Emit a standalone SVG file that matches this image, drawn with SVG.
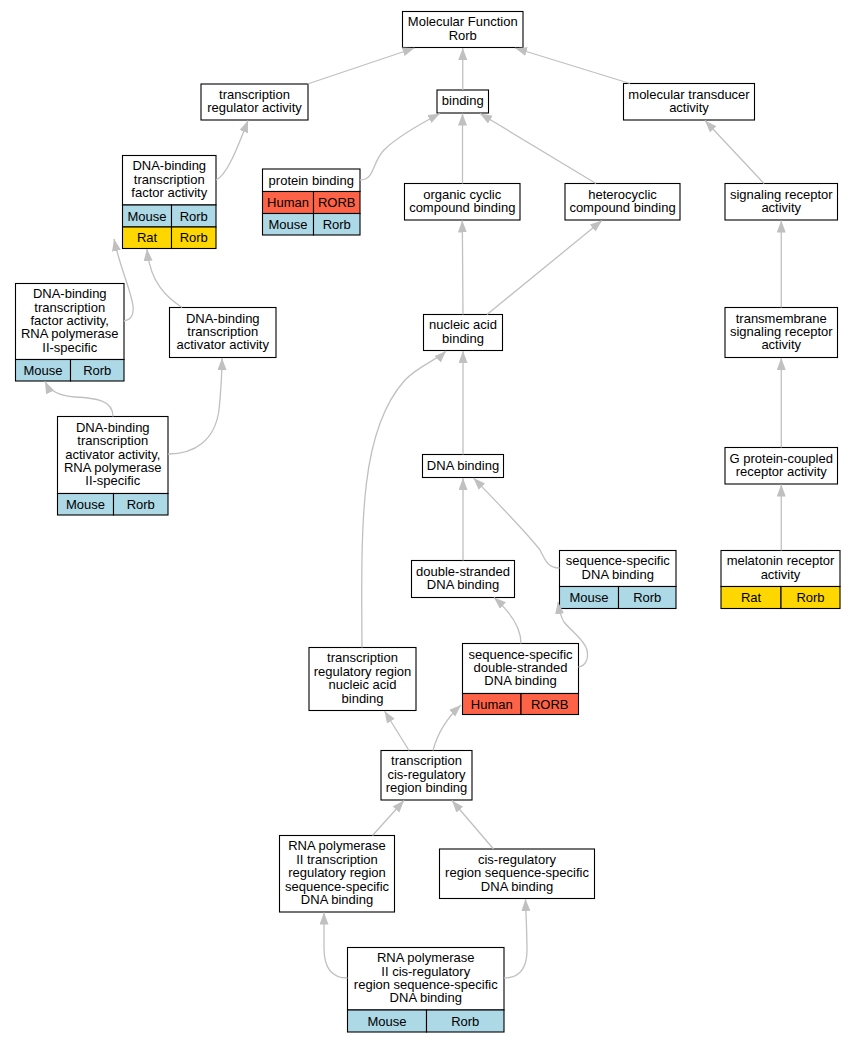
<svg xmlns="http://www.w3.org/2000/svg" width="856" height="1043" viewBox="0 0 856 1043">
<style>
.bg{fill:#fff}
.box{fill:#fff;stroke:#000;stroke-width:1.1}
.blue{fill:#add8e6;stroke:#000;stroke-width:1.1}
.red{fill:#ff6347;stroke:#000;stroke-width:1.1}
.gold{fill:#ffd700;stroke:#000;stroke-width:1.1}
text{font-family:"Liberation Sans",Arial,sans-serif;font-size:13px;text-anchor:middle;fill:#000}
.e{fill:none;stroke:#c0c0c0;stroke-width:1.3;marker-end:url(#ah)}
</style>
<defs>
<marker id="ah" markerUnits="userSpaceOnUse" markerWidth="13" markerHeight="10" refX="12" refY="4.5" orient="auto">
<path d="M0,0 L12,4.5 L0,9 z" fill="#c0c0c0"/>
</marker>
</defs>
<rect class="bg" x="0" y="0" width="856" height="1043"/>

<g id="n1"><rect class="box" x="402.5" y="11.5" width="120.5" height="36"/><text x="462.75" y="26.3">Molecular Function</text><text x="462.75" y="39.7">Rorb</text></g>
<g id="n2"><rect class="box" x="201" y="84" width="107" height="36"/><text x="254.5" y="98.8">transcription</text><text x="254.5" y="112.2">regulator activity</text></g>
<g id="n3"><rect class="box" x="437" y="90" width="51.5" height="23"/><text x="462.75" y="105">binding</text></g>
<g id="n4"><rect class="box" x="623.5" y="83.5" width="131" height="36.5"/><text x="689" y="98.6">molecular transducer</text><text x="689" y="112">activity</text></g>
<g id="n5"><rect class="box" x="122.5" y="155.5" width="93.5" height="49.5"/><text x="169.25" y="170.35">DNA-binding</text><text x="169.25" y="183.75">transcription</text><text x="169.25" y="197.15">factor activity</text>
<rect class="blue" x="122.5" y="205" width="49" height="22"/><rect class="blue" x="171.5" y="205" width="44.5" height="22"/><text x="147" y="220.5">Mouse</text><text x="193.75" y="220.5">Rorb</text>
<rect class="gold" x="122.5" y="227" width="49" height="21.5"/><rect class="gold" x="171.5" y="227" width="44.5" height="21.5"/><text x="147" y="242.2">Rat</text><text x="193.75" y="242.2">Rorb</text></g>
<g id="n6"><rect class="box" x="262.5" y="169" width="97.5" height="22.5"/><text x="311.25" y="184.5">protein binding</text>
<rect class="red" x="262.5" y="191.5" width="51" height="22"/><rect class="red" x="313.5" y="191.5" width="46.5" height="22"/><text x="288" y="207">Human</text><text x="336.75" y="207">RORB</text>
<rect class="blue" x="262.5" y="213.5" width="51" height="21.5"/><rect class="blue" x="313.5" y="213.5" width="46.5" height="21.5"/><text x="288" y="228.7">Mouse</text><text x="336.75" y="228.7">Rorb</text></g>
<g id="n7"><rect class="box" x="404.5" y="183.5" width="115.5" height="36.5"/><text x="462.25" y="198.55">organic cyclic</text><text x="462.25" y="211.95">compound binding</text></g>
<g id="n8"><rect class="box" x="565" y="183.5" width="115" height="36.5"/><text x="622.5" y="198.55">heterocyclic</text><text x="622.5" y="211.95">compound binding</text></g>
<g id="n9"><rect class="box" x="725" y="183.5" width="112.5" height="36.5"/><text x="781.25" y="198.55">signaling receptor</text><text x="781.25" y="211.95">activity</text></g>
<g id="n10"><rect class="box" x="15.5" y="283.5" width="108.5" height="76"/><text x="69.75" y="298.2">DNA-binding</text><text x="69.75" y="311.6">transcription</text><text x="69.75" y="325">factor activity,</text><text x="69.75" y="338.4">RNA polymerase</text><text x="69.75" y="351.8">II-specific</text>
<rect class="blue" x="15.5" y="359.5" width="55" height="21.5"/><rect class="blue" x="70.5" y="359.5" width="53.5" height="21.5"/><text x="43" y="374.7">Mouse</text><text x="97.25" y="374.7">Rorb</text></g>
<g id="n11"><rect class="box" x="169.5" y="307.5" width="106.5" height="50"/><text x="222.75" y="322.6">DNA-binding</text><text x="222.75" y="336">transcription</text><text x="222.75" y="349.4">activator activity</text></g>
<g id="n12"><rect class="box" x="57.5" y="416.5" width="110.5" height="77"/><text x="112.75" y="431.7">DNA-binding</text><text x="112.75" y="445.1">transcription</text><text x="112.75" y="458.5">activator activity,</text><text x="112.75" y="471.9">RNA polymerase</text><text x="112.75" y="485.3">II-specific</text>
<rect class="blue" x="57.5" y="493.5" width="56" height="21.5"/><rect class="blue" x="113.5" y="493.5" width="54.5" height="21.5"/><text x="85.5" y="508.7">Mouse</text><text x="140.75" y="508.7">Rorb</text></g>
<g id="n13"><rect class="box" x="423.5" y="314.5" width="79" height="36"/><text x="463" y="329.3">nucleic acid</text><text x="463" y="342.7">binding</text></g>
<g id="n14"><rect class="box" x="725" y="307.5" width="112.5" height="50"/><text x="781.25" y="322.6">transmembrane</text><text x="781.25" y="336">signaling receptor</text><text x="781.25" y="349.4">activity</text></g>
<g id="n15"><rect class="box" x="725" y="447.5" width="112.5" height="36.5"/><text x="781.25" y="462.55">G protein-coupled</text><text x="781.25" y="475.95">receptor activity</text></g>
<g id="n16"><rect class="box" x="721" y="550.5" width="119" height="36"/><text x="780.5" y="565.3">melatonin receptor</text><text x="780.5" y="578.7">activity</text>
<rect class="gold" x="721" y="586.5" width="60" height="22"/><rect class="gold" x="781" y="586.5" width="59" height="22"/><text x="751" y="602">Rat</text><text x="810.5" y="602">Rorb</text></g>
<g id="n17"><rect class="box" x="559.5" y="550.5" width="116.5" height="36"/><text x="617.75" y="565.3">sequence-specific</text><text x="617.75" y="578.7">DNA binding</text>
<rect class="blue" x="559.5" y="586.5" width="59" height="22"/><rect class="blue" x="618.5" y="586.5" width="57.5" height="22"/><text x="589" y="602">Mouse</text><text x="647.25" y="602">Rorb</text></g>
<g id="n18"><rect class="box" x="422.5" y="454.5" width="81" height="23"/><text x="463" y="469.5">DNA binding</text></g>
<g id="n19"><rect class="box" x="411.5" y="560.5" width="103" height="37"/><text x="463" y="575.8">double-stranded</text><text x="463" y="589.2">DNA binding</text></g>
<g id="n20"><rect class="box" x="309" y="647.5" width="107" height="63"/><text x="362.5" y="662.4">transcription</text><text x="362.5" y="675.8">regulatory region</text><text x="362.5" y="689.2">nucleic acid</text><text x="362.5" y="702.6">binding</text></g>
<g id="n21"><rect class="box" x="462.5" y="643.5" width="116" height="50"/><text x="520.5" y="658.6">sequence-specific</text><text x="520.5" y="672">double-stranded</text><text x="520.5" y="685.4">DNA binding</text>
<rect class="red" x="462.5" y="693.5" width="58.5" height="21"/><rect class="red" x="521" y="693.5" width="57.5" height="21"/><text x="491.75" y="708.5">Human</text><text x="549.75" y="708.5">RORB</text></g>
<g id="n22"><rect class="box" x="381" y="750.5" width="91" height="49.5"/><text x="426.5" y="765.35">transcription</text><text x="426.5" y="778.75">cis-regulatory</text><text x="426.5" y="792.15">region binding</text></g>
<g id="n23"><rect class="box" x="279.5" y="835.5" width="115" height="76.5"/><text x="337" y="850.45">RNA polymerase</text><text x="337" y="863.85">II transcription</text><text x="337" y="877.25">regulatory region</text><text x="337" y="890.65">sequence-specific</text><text x="337" y="904.05">DNA binding</text></g>
<g id="n24"><rect class="box" x="439.5" y="849" width="155" height="49.5"/><text x="517" y="863.85">cis-regulatory</text><text x="517" y="877.25">region sequence-specific</text><text x="517" y="890.65">DNA binding</text></g>
<g id="n25"><rect class="box" x="347.5" y="947.5" width="156.5" height="62.5"/><text x="425.75" y="962.15">RNA polymerase</text><text x="425.75" y="975.55">II cis-regulatory</text><text x="425.75" y="988.95">region sequence-specific</text><text x="425.75" y="1002.35">DNA binding</text>
<rect class="blue" x="347.5" y="1010" width="79" height="22"/><rect class="blue" x="426.5" y="1010" width="77.5" height="22"/><text x="387" y="1025.5">Mouse</text><text x="465.25" y="1025.5">Rorb</text></g>

<g id="edges">
<path class="e" d="M307.5,84 L414.5,48"/>
<path class="e" d="M462.75,90 L462.75,48"/>
<path class="e" d="M630,83.5 L515,48"/>
<path class="e" d="M216,180 C226,176 236,152 248,120.5"/>
<path class="e" d="M360,180 C375,180 372,162 384,150 C398,136 420,124 440,113.5"/>
<path class="e" d="M462.5,183.5 L462.5,113.5"/>
<path class="e" d="M596,183.5 L480,113.5"/>
<path class="e" d="M764,183.5 L705,120.5"/>
<path class="e" d="M463,314.5 L462.3,220.5"/>
<path class="e" d="M487,314.5 L602,220.5"/>
<path class="e" d="M781.25,307.5 L781.25,220.5"/>
<path class="e" d="M781.25,447.5 L781.25,358"/>
<path class="e" d="M781.25,550.5 L781.25,484.5"/>
<path class="e" d="M124,321 C131,320 134,315 133,306 C131,290 120,268 114,239"/>
<path class="e" d="M182,307.5 C166,297 150,282 147,249"/>
<path class="e" d="M113,416.5 C113,400 95,398 75,397 C60,396 50,392 45,381.5"/>
<path class="e" d="M168,454 C195,454 215,440 219,410 C221,390 222,370 222,358"/>
<path class="e" d="M463,454.5 L463,351"/>
<path class="e" d="M362,647.5 C361,520 360,430 405,380 C420,365 437,360 446,351"/>
<path class="e" d="M463,560.5 L463,478"/>
<path class="e" d="M559.5,568 C548,568 545,560 540,550 C527,533 490,495 473.5,478"/>
<path class="e" d="M521,643.5 C521,626 508,610 494,597.5"/>
<path class="e" d="M578.5,667 C585,666 589,660 587,650 C585,640 570,630 564,622 C561,617 559,610 558,602"/>
<path class="e" d="M409,750.5 L384.5,711"/>
<path class="e" d="M433,750.5 C437,735 447,718 461,705"/>
<path class="e" d="M372.5,835.5 L404,800.5"/>
<path class="e" d="M493.5,849 L452,800.5"/>
<path class="e" d="M347.5,978 C331,978 324,966 324,948 C324,935 324,922 324,912.5"/>
<path class="e" d="M504,978 C520,978 527,967 527,950 C527,935 526,915 525.5,899"/>
</g>
</svg>
